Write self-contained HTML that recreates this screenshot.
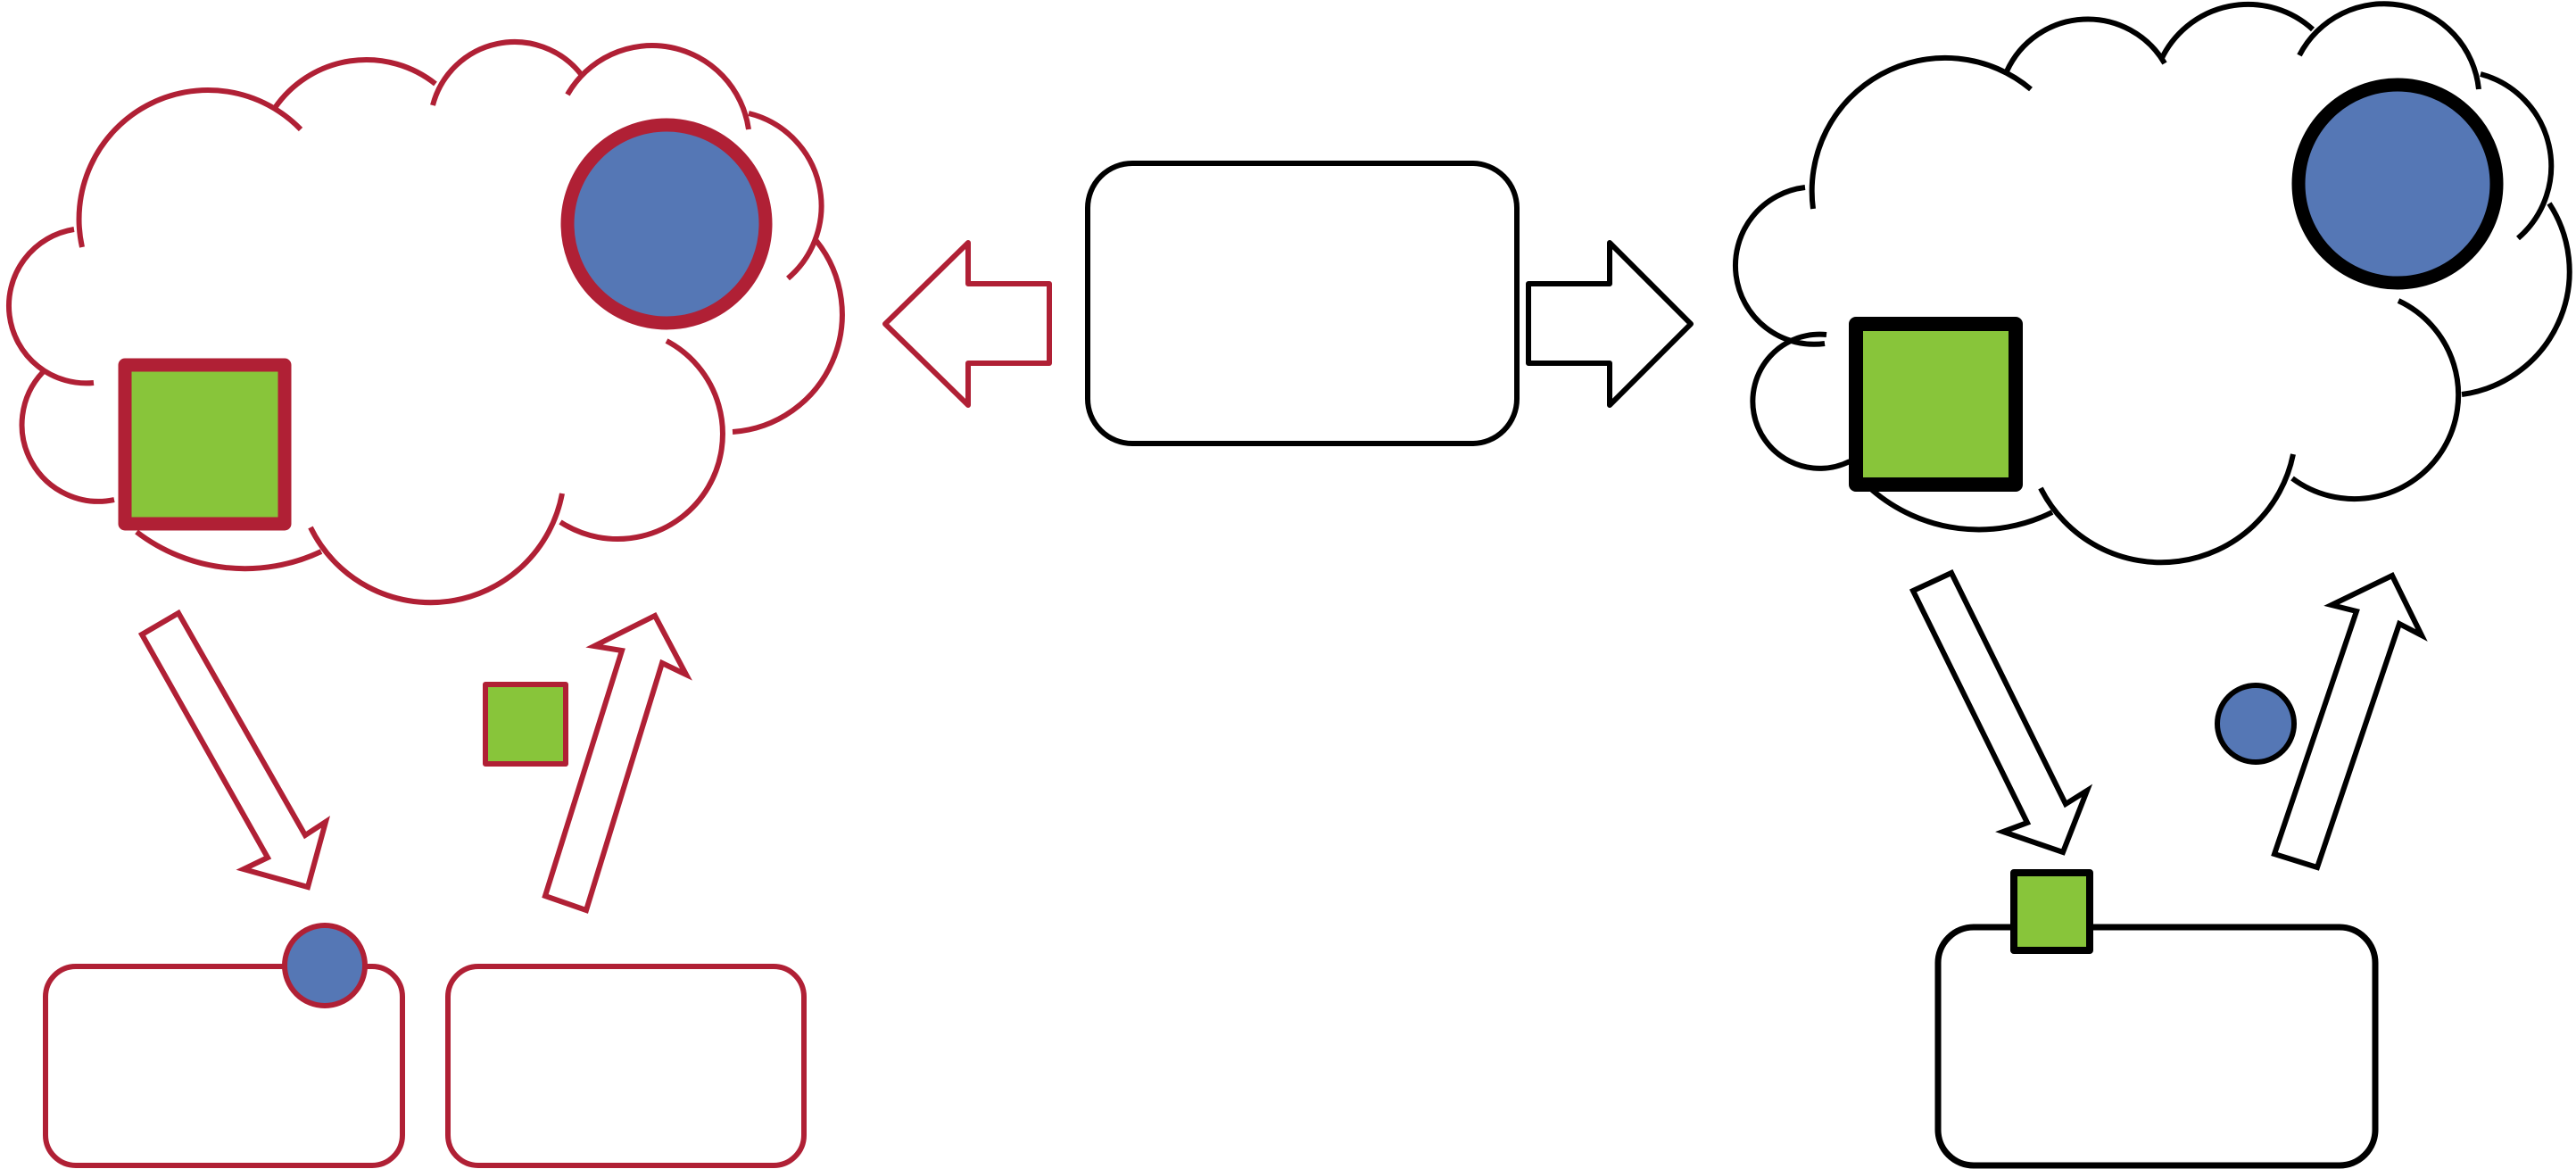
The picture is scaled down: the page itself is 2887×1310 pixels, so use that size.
<!DOCTYPE html>
<html><head><meta charset="utf-8"><style>html,body{margin:0;padding:0;background:#fff}svg{display:block}</style></head>
<body>
<svg id="s" width="2887" height="1310" viewBox="0 0 2887 1310" xmlns="http://www.w3.org/2000/svg">
<g id="c1" fill="none" stroke="#b02035" stroke-width="6"></g>
<g id="c2" fill="none" stroke="#000" stroke-width="6"></g>
<!-- left cloud contents -->
<circle cx="747" cy="251" r="111" fill="#5577b5" stroke="#b02035" stroke-width="15"/>
<rect x="140" y="409" width="179" height="178" fill="#88c53a" stroke="#b02035" stroke-width="15" stroke-linejoin="round"/>
<!-- right cloud contents -->
<circle cx="2687" cy="206" r="111" fill="#5577b5" stroke="#000" stroke-width="15"/>
<rect x="2080" y="363" width="179" height="180" fill="#88c53a" stroke="#000" stroke-width="16" stroke-linejoin="round"/>
<!-- center -->
<rect x="1219" y="183" width="481" height="314" rx="50" fill="#fff" stroke="#000" stroke-width="6"/>
<polygon points="992,363 1085,272 1085,318 1176,318 1176,407 1085,407 1085,454" fill="#fff" stroke="#b02035" stroke-width="6" stroke-linejoin="round"/>
<polygon points="1895,363 1804,272 1804,318 1713,318 1713,407 1804,407 1804,454" fill="#fff" stroke="#000" stroke-width="6" stroke-linejoin="round"/>
<!-- left lower -->
<polygon points="159,711 200,687 342,936 365,921 345,994 273,974 300,961" fill="#fff" stroke="#b02035" stroke-width="6"/>
<polygon points="611,1004 657,1020 742,743 769,756 734,690 666,724 697,729" fill="#fff" stroke="#b02035" stroke-width="6"/>
<rect x="544" y="767" width="90" height="89" fill="#88c53a" stroke="#b02035" stroke-width="6" stroke-linejoin="round"/>
<rect x="51" y="1083" width="400" height="223" rx="34" fill="#fff" stroke="#b02035" stroke-width="6"/>
<rect x="502" y="1083" width="399" height="223" rx="34" fill="#fff" stroke="#b02035" stroke-width="6"/>
<circle cx="364" cy="1082" r="45" fill="#5577b5" stroke="#b02035" stroke-width="6"/>
<!-- right lower -->
<polygon points="2144,662 2187,642 2315,901 2339,886 2312,955 2245,932 2272,922" fill="#fff" stroke="#000" stroke-width="6"/>
<polygon points="2549,957 2597,972 2689,699 2714,712 2681,645 2613,678 2641,685" fill="#fff" stroke="#000" stroke-width="6"/>
<circle cx="2528" cy="811" r="43" fill="#5577b5" stroke="#000" stroke-width="6"/>
<rect x="2172" y="1039" width="490" height="267" rx="40" fill="#fff" stroke="#000" stroke-width="7"/>
<rect x="2257" y="978" width="85" height="87" fill="#88c53a" stroke="#000" stroke-width="8" stroke-linejoin="round"/>
</svg>
<script>
function bumps(id, arr){
  var g=document.getElementById(id), ns="http://www.w3.org/2000/svg";
  arr.forEach(function(b){
    var S=b[0],E=b[1],T=b[2];
    var ax=S[0],ay=S[1],bx=E[0],by=E[1],cx=T[0],cy=T[1];
    var d=2*(ax*(by-cy)+bx*(cy-ay)+cx*(ay-by));
    var ux=((ax*ax+ay*ay)*(by-cy)+(bx*bx+by*by)*(cy-ay)+(cx*cx+cy*cy)*(ay-by))/d;
    var uy=((ax*ax+ay*ay)*(cx-bx)+(bx*bx+by*by)*(ax-cx)+(cx*cx+cy*cy)*(bx-ax))/d;
    var r=Math.hypot(ax-ux,ay-uy);
    var cr=(bx-ax)*(cy-ay)-(by-ay)*(cx-ax);
    var sweep=cr>0?1:0;
    // side of chord for E and center
    var sE=(cx-ax)*(by-ay)-(cy-ay)*(bx-ax);
    var sC=(cx-ax)*(uy-ay)-(cy-ay)*(ux-ax);
    var large=(sE*sC>0)?1:0;
    var p=document.createElementNS(ns,"path");
    p.setAttribute("d","M"+ax+","+ay+" A"+r+","+r+" 0 "+large+" "+sweep+" "+cx+","+cy);
    g.appendChild(p);
  });
}
bumps("c1",[
[[92,277],[140,135],[337,145]],
[[308,121],[411,67],[488,94]],
[[485,118],[577,47],[651,83]],
[[636,106],[760,55],[839,145]],
[[839,127],[920,220],[883,312]],
[[915,270],[935,400],[821,484]],
[[747,382],[805,520],[628,585]],
[[630,553],[490,675],[348,591]],
[[360,618],[265,637],[153,596]],
[[128,560],[28,500],[48,417]],
[[105,429],[10,340],[83,257]]
]);
bumps("c2",[
[[2032,234],[2090,95],[2276,100]],
[[2249,80],[2350,22],[2426,71]],
[[2422,67],[2515,5],[2592,33]],
[[2577,62],[2700,8],[2778,100]],
[[2780,83],[2858,170],[2822,267]],
[[2857,228],[2875,340],[2759,442]],
[[2688,337],[2740,500],[2569,536]],
[[2570,509],[2430,630],[2287,547]],
[[2300,574],[2205,593],[2098,549]],
[[2073,517],[1965,440],[2047,375]],
[[2045,385],[1945,295],[2023,210]]
]);
</script>
</body></html>
